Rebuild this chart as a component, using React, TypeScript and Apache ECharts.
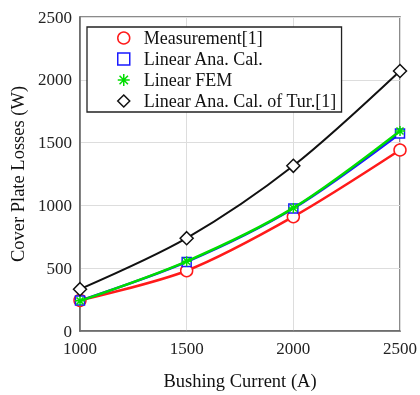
import React, { useEffect, useRef } from "react";
import * as echarts from "echarts";

const currents = [1000, 1500, 2000, 2500];
const measurement = [244, 480, 910, 1441];
const linearAna = [242, 550, 975, 1572];
const linearFem = [240, 555, 980, 1593];
const linearTur = [333, 739, 1315, 2070];
const seriesNames = ["Measurement[1]", "Linear Ana. Cal.", "Linear FEM", "Linear Ana. Cal. of Tur.[1]"];

const FONT = "'Liberation Serif', 'Times New Roman', serif";
const STAR = "path://M0,-10L0,10M-10,0L10,0M-7,-7L7,7M-7,7L7,-7";

export default function App() {
  const ref = useRef<HTMLDivElement>(null);
  useEffect(() => {
    if (!ref.current) return;
    const chart = echarts.init(ref.current, null, { renderer: "svg" });
    const mk = (vals: number[]) => vals.map((v, i) => [currents[i], v]);
    const colors = ["#ff1a1a", "#1a1aff", "#00dd00", "#111111"];
    const symbols = ["circle", "rect", STAR, "diamond"];
    const sizes = [12, 9, 10, 13];
    const data = [measurement, linearAna, linearFem, linearTur];
    chart.setOption({
      animation: false,
      textStyle: { fontFamily: FONT },
      grid: { left: 80, right: 16, top: 17, bottom: 60, show: true, borderColor: "#666", borderWidth: 1.5 },
      legend: {
        orient: "vertical",
        left: 87,
        top: 27,
        padding: [0.5, 4, 0.5, 30],
        itemGap: 0,
        itemWidth: 12,
        itemHeight: 12,
        borderColor: "#222",
        borderWidth: 1.3,
        backgroundColor: "#fff",
        textStyle: { fontFamily: FONT, fontSize: 18, lineHeight: 21, color: "#111", padding: [0, 0, 0, 9] },
        data: seriesNames.map((n, i) => ({
          name: n,
          icon: symbols[i],
          itemStyle: { color: i === 2 ? colors[2] : "#fff", borderColor: colors[i], borderWidth: 1.5 },
        })),
      },
      xAxis: {
        type: "value",
        min: 1000,
        max: 2500,
        interval: 500,
        name: "Bushing Current (A)",
        nameLocation: "middle",
        nameGap: 40,
        nameTextStyle: { fontFamily: FONT, fontSize: 18.5, color: "#111" },
        axisLine: { lineStyle: { color: "#666", width: 1.5 } },
        axisTick: { show: false },
        axisLabel: { fontFamily: FONT, fontSize: 17, color: "#222", margin: 9, formatter: (v: number) => String(v) },
        splitLine: { lineStyle: { color: "#ddd" } },
      },
      yAxis: {
        type: "value",
        min: 0,
        max: 2500,
        interval: 500,
        name: "Cover Plate Losses (W)",
        nameLocation: "middle",
        nameGap: 52,
        nameTextStyle: { fontFamily: FONT, fontSize: 18.5, color: "#111" },
        axisLine: { show: true, lineStyle: { color: "#666", width: 1.5 } },
        axisTick: { show: false },
        axisLabel: { fontFamily: FONT, fontSize: 17, lineHeight: 13, color: "#222", margin: 8, formatter: (v: number) => String(v) },
        splitLine: { lineStyle: { color: "#ddd" } },
      },
      series: seriesNames.map((n, i) => ({
        name: n,
        type: "line",
        smooth: 0.3,
        data: mk(data[i]),
        symbol: symbols[i],
        symbolSize: sizes[i],
        lineStyle: { color: colors[i], width: i === 3 ? 2 : 2.5 },
        itemStyle: { color: i === 2 ? colors[2] : "#fff", borderColor: colors[i], borderWidth: 1.5 },
        z: i + 2,
      })),
    });
    return () => chart.dispose();
  }, []);
  return <div ref={ref} style={{ width: 420, height: 395, position: "fixed", left: 0, top: 0 }} />;
}
